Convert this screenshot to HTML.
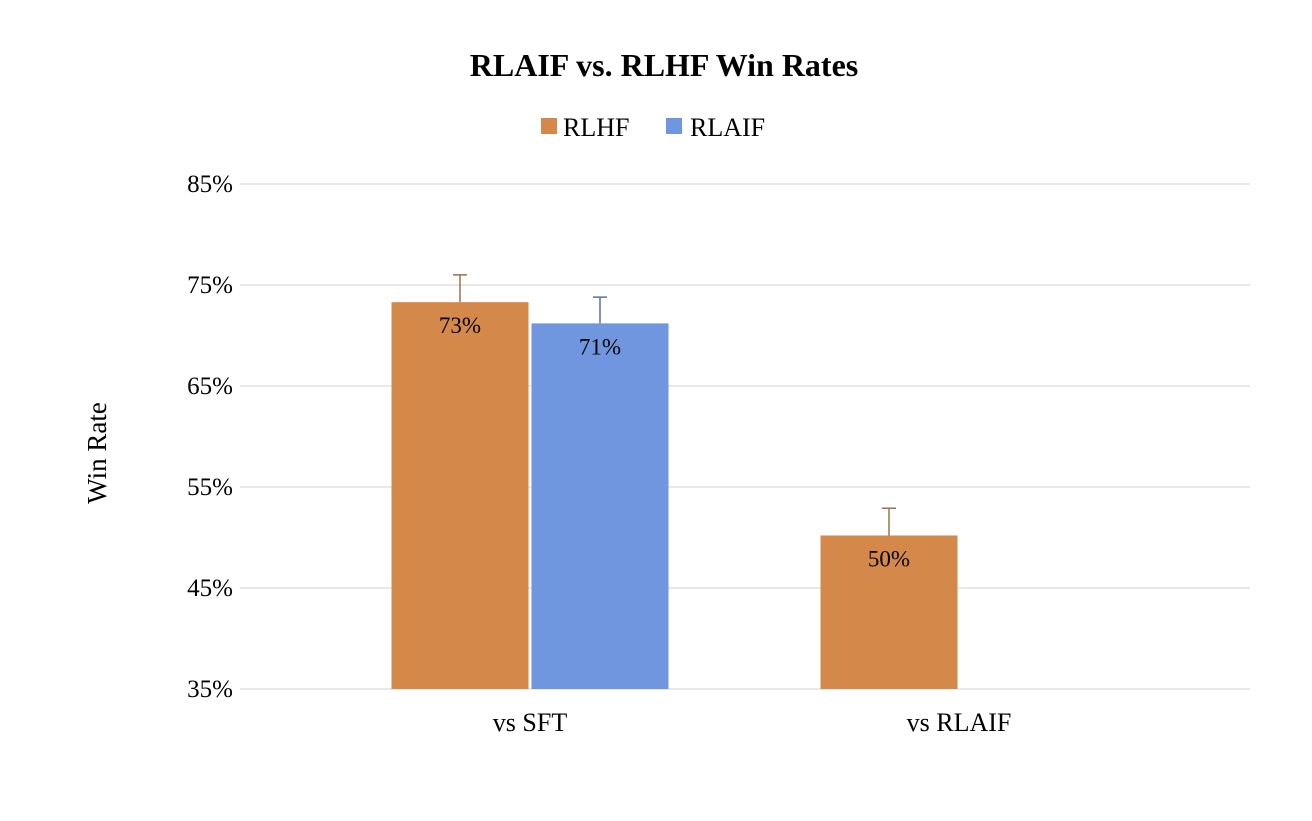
<!DOCTYPE html>
<html><head><meta charset="utf-8"><style>
body{margin:0;background:#fff;}
svg text{font-family:"Liberation Serif",serif;fill:#000;}
</style></head><body>
<svg id="chart" width="1312" height="816">
<text x="664" y="76" text-anchor="middle" font-size="32" font-weight="bold">RLAIF vs. RLHF Win Rates</text>
<g>
<rect x="541" y="118" width="16" height="16" fill="#d4894b"/>
<text x="563" y="136" font-size="26">RLHF</text>
<rect x="666" y="118" width="16" height="16" fill="#6f96de"/>
<text x="690" y="136" font-size="26">RLAIF</text>
</g>
<text transform="translate(106,453) rotate(-90)" text-anchor="middle" font-size="27">Win Rate</text>
<g id="grid"></g><g id="bars"></g>
</svg>
<script>
const categories=["vs SFT","vs RLAIF"];
const seriesNames=["RLHF","RLAIF"];
const rlhf=[73.3,50.2];
const rlaif=[71.2,null];
const rlhfErr=[2.7,2.7];
const rlaifErr=[2.6,null];
const valueLabels=[["73%","50%"],["71%",""]];
const yTicks=[35,45,55,65,75,85];
const tickLabels=["35%","45%","55%","65%","75%","85%"];
const ns="http://www.w3.org/2000/svg";
const y0=689,pxPer=10.1,x0=240,x1=1250;
const y=v=>y0-(v-35)*pxPer;
const cx=i=>530+i*429;
const bw=137;
function mk(t,a,p){const e=document.createElementNS(ns,t);for(const k in a)e.setAttribute(k,a[k]);p.appendChild(e);return e;}
const grid=document.getElementById('grid'),bars=document.getElementById('bars');
yTicks.forEach((t,i)=>{
 const l=mk('line',{x1:x0,x2:x1,y1:y(t),y2:y(t),stroke:'#d0d0d0','stroke-width':1},grid);
 
 
 const tx=mk('text',{x:233,y:y(t)+8,'text-anchor':'end','font-size':25},grid);tx.textContent=tickLabels[i];
 
 
});
categories.forEach((c,i)=>{
 const tx=mk('text',{x:cx(i),y:731,'text-anchor':'middle','font-size':26},grid);tx.textContent=c;
 
 
});
const series=[[rlhf,rlhfErr,'#d4894b','#9a7448'],[rlaif,rlaifErr,'#6f96de','#5f7499']];
series.forEach((s,si)=>{
 s[0].forEach((v,i)=>{
  if(v==null)return;
  const left=si===0?cx(i)-bw-1.5:cx(i)+1.5;
  const r=mk('rect',{x:left,y:y(v),width:bw,height:y0-y(v),fill:s[2]},bars);
  
  
  const mx=left+bw/2,e=v+s[1][i];
  const g=mk('path',{d:`M${mx},${y(v)}V${y(e)}M${mx-7},${y(e)}H${mx+7}`,stroke:s[3],'stroke-width':1.5,fill:'none'},bars);
  
  
  const t=mk('text',{x:mx,y:y(v)+31,'text-anchor':'middle','font-size':23},bars);t.textContent=valueLabels[si][i];
  
  
 });
});
</script>
</body></html>
